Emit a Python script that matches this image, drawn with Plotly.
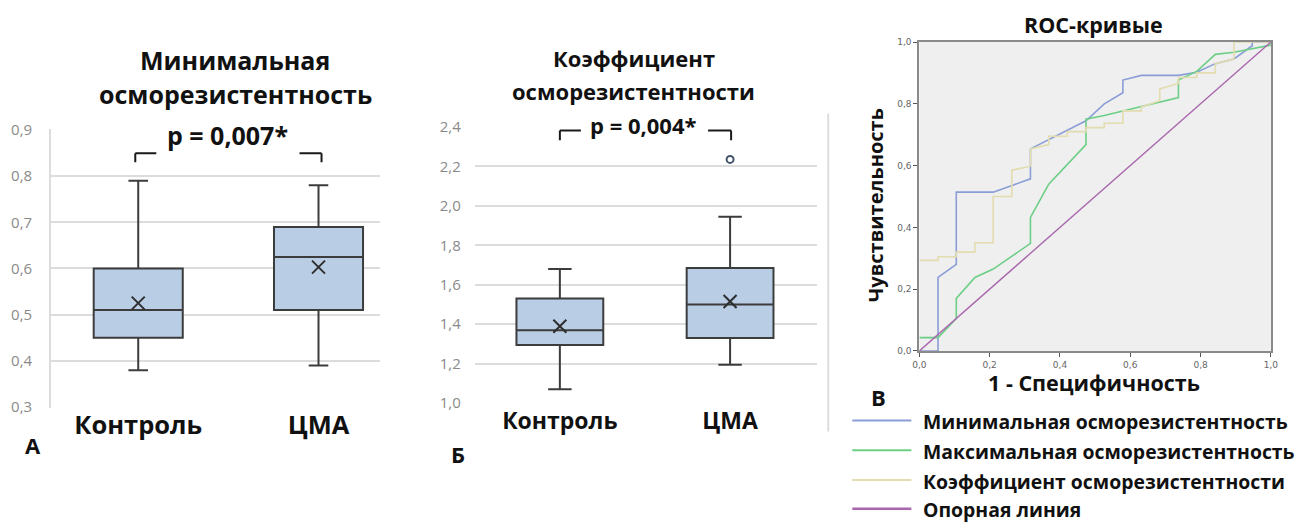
import plotly.graph_objects as go

W, H = 1302, 531
# the page is photographed with its 8px body margin and scaled back to W x H;
# layout positions below are given in final picture pixels and converted here
PAD = 8
SX = (W + 2 * PAD) / W
SY = (H + 2 * PAD) / H

# ---- Panel A: minimal osmotic resistance (box summary per group) ----
groups = ["Контроль", "ЦМА"]
a_lower = [0.38, 0.39]
a_q1 = [0.45, 0.51]
a_median = [0.51, 0.625]
a_q3 = [0.60, 0.69]
a_upper = [0.79, 0.78]
a_mean = [0.525, 0.603]
a_ticks = [0.3, 0.4, 0.5, 0.6, 0.7, 0.8, 0.9]

# ---- Panel B: osmotic resistance coefficient ----
b_lower = [1.07, 1.195]
b_q1 = [1.295, 1.33]
b_median = [1.37, 1.50]
b_q3 = [1.53, 1.685]
b_upper = [1.68, 1.945]
b_mean = [1.39, 1.515]
b_outlier_group = [1]
b_outlier_value = [2.235]
b_ticks = [1.0, 1.2, 1.4, 1.6, 1.8, 2.0, 2.2, 2.4]

# ---- Panel C: ROC curves (1 - specificity, sensitivity) ----
roc_min_x = [0, 0.053, 0.053, 0.105, 0.105, 0.21, 0.316, 0.316, 0.474, 0.526, 0.579, 0.579,
             0.632, 0.737, 0.789, 0.842, 0.895, 0.947, 0.947, 1.0]
roc_min_y = [0, 0, 0.238, 0.28, 0.514, 0.514, 0.557, 0.654, 0.745, 0.8, 0.836, 0.877,
             0.892, 0.892, 0.902, 0.93, 0.945, 0.988, 1.0, 1.0]
roc_max_x = [0, 0.053, 0.105, 0.105, 0.158, 0.21, 0.316, 0.316, 0.368, 0.474, 0.474, 0.526,
             0.579, 0.737, 0.737, 0.789, 0.842, 0.895, 1.0, 1.0]
roc_max_y = [0.043, 0.043, 0.105, 0.17, 0.238, 0.265, 0.348, 0.432, 0.54, 0.668, 0.75, 0.762,
             0.777, 0.82, 0.877, 0.905, 0.96, 0.967, 0.99, 1.0]
roc_coef_x = [0, 0.053, 0.053, 0.105, 0.105, 0.158, 0.158, 0.21, 0.21, 0.263, 0.263, 0.316,
              0.316, 0.368, 0.368, 0.421, 0.421, 0.474, 0.474, 0.526, 0.526, 0.579, 0.579,
              0.632, 0.632, 0.684, 0.684, 0.737, 0.737, 0.789, 0.789, 0.842, 0.842, 0.895,
              0.895, 1.0]
roc_coef_y = [0.293, 0.293, 0.305, 0.305, 0.32, 0.32, 0.35, 0.35, 0.50, 0.50, 0.585, 0.598,
              0.654, 0.668, 0.695, 0.695, 0.71, 0.71, 0.723, 0.723, 0.737, 0.737, 0.777,
              0.777, 0.79, 0.81, 0.848, 0.866, 0.885, 0.885, 0.9, 0.9, 0.93, 0.945,
              1.0, 1.0]
roc_ref_x = [0, 1]
roc_ref_y = [0, 1]
roc_ticks = [0, 0.2, 0.4, 0.6, 0.8, 1.0]

roc_names = ["Минимальная осморезистентность", "Максимальная осморезистентность",
             "Коэффициент осморезистентности", "Опорная линия"]
roc_colors = ["#8a9dd6", "#6dcf86", "#e2dcae", "#a866ad"]

FONT = "Open Sans"
BOX_FILL = "#b9cde4"
BOX_LINE = "#3c3c3c"


def px(x):
    """Picture x pixel -> paper fraction."""
    return (x * SX - PAD) / W


def py(y):
    """Picture y pixel (from top) -> paper fraction."""
    return 1 - (y * SY - PAD) / H


fig = go.Figure()

# boxes
for ax, lo, q1, med, q3, up, width, ww in [
    ("", a_lower, a_q1, a_median, a_q3, a_upper, 0.494, 0.22),
    ("2", b_lower, b_q1, b_median, b_q3, b_upper, 0.51, 0.27),
]:
    for i in range(len(groups)):
        fig.add_trace(go.Box(
            x=[i], q1=[q1[i]], median=[med[i]], q3=[q3[i]],
            lowerfence=[lo[i]], upperfence=[up[i]],
            width=width, whiskerwidth=ww,
            fillcolor=BOX_FILL, line=dict(color=BOX_LINE, width=2),
            xaxis="x" + ax, yaxis="y" + ax, showlegend=False, hoverinfo="skip",
        ))

# mean markers
for ax, means in [("", a_mean), ("2", b_mean)]:
    fig.add_trace(go.Scatter(
        x=[0, 1], y=means, mode="markers", xaxis="x" + ax, yaxis="y" + ax,
        showlegend=False,
        marker=dict(symbol="x-thin", size=13, color="#2e2e2e",
                    line=dict(color="#2e2e2e", width=2)),
    ))
# outlier
fig.add_trace(go.Scatter(
    x=b_outlier_group, y=b_outlier_value, mode="markers", xaxis="x2", yaxis="y2",
    showlegend=False,
    marker=dict(symbol="circle-open", size=7, color="#44546a",
                line=dict(color="#44546a", width=2)),
))

# ROC curves
for xs, ys, name, col, lw in [
    (roc_min_x, roc_min_y, roc_names[0], roc_colors[0], 1.6),
    (roc_max_x, roc_max_y, roc_names[1], roc_colors[1], 1.6),
    (roc_coef_x, roc_coef_y, roc_names[2], roc_colors[2], 1.6),
    (roc_ref_x, roc_ref_y, roc_names[3], roc_colors[3], 1.4),
]:
    fig.add_trace(go.Scatter(
        x=xs, y=ys, mode="lines", name=name, xaxis="x3", yaxis="y3",
        line=dict(color=col, width=lw), showlegend=False,
    ))

tick_gray = dict(family=FONT, size=15, color="#8a8a8a")
cat_text = [f"<b>{g}</b>" for g in groups]
roc_tick_font = dict(family="DejaVu Sans", size=9, color="#666666")

fig.update_layout(
    width=W, height=H,
    margin=dict(l=0, r=0, t=0, b=0),
    paper_bgcolor="white", plot_bgcolor="white",
    separators=", ",
    font=dict(family=FONT),
    xaxis=dict(domain=[px(52), px(380)], range=[-0.483, 1.339],
               anchor="free", position=py(402),
               tickvals=[0, 1], ticktext=cat_text,
               tickfont=dict(family=FONT, size=25.5, color="#111111"),
               ticks="outside", ticklen=1, tickcolor="rgba(0,0,0,0)",
               showgrid=False, zeroline=False, showline=False),
    yaxis=dict(domain=[py(408), py(128)], range=[0.299, 0.901],
               tickvals=a_ticks, tickformat=".1f", tickfont=tick_gray,
               ticks="outside", ticklen=14, tickcolor="rgba(0,0,0,0)",
               showgrid=True, gridcolor="#dcdcdc", gridwidth=2, zeroline=False,
               showline=True, linecolor="#dcdcdc", linewidth=2),
    xaxis2=dict(domain=[px(475), px(817)], range=[-0.5, 1.512],
                anchor="free", position=py(400),
                tickvals=[0, 1], ticktext=cat_text,
                tickfont=dict(family=FONT, size=23, color="#111111"),
                ticks="outside", ticklen=1, tickcolor="rgba(0,0,0,0)",
                showgrid=False, zeroline=False, showline=False),
    yaxis2=dict(domain=[py(404), py(125)], range=[0.998, 2.402],
                tickvals=b_ticks, tickformat=".1f", tickfont=tick_gray,
                ticks="outside", ticklen=10, tickcolor="rgba(0,0,0,0)",
                showgrid=True, gridcolor="#dcdcdc", gridwidth=2, zeroline=False,
                showline=False, anchor="x2"),
    xaxis3=dict(domain=[px(919), px(1270)], range=[0, 1],
                tickvals=roc_ticks, tickformat=".1f", tickfont=roc_tick_font,
                ticks="outside", ticklen=4, tickcolor="#555555",
                showgrid=False, zeroline=False, showline=True, mirror=True,
                linecolor="#8a8a8a", linewidth=2, anchor="y3"),
    yaxis3=dict(domain=[py(351), py(40)], range=[0, 1],
                tickvals=roc_ticks, tickformat=".1f", tickfont=roc_tick_font,
                ticks="outside", ticklen=4, tickcolor="#555555",
                showgrid=False, zeroline=False, showline=True, mirror=True,
                linecolor="#8a8a8a", linewidth=2, anchor="x3"),
)

ann = []


def text(x, y, s, size, bold=True, color="#111111", angle=0, xanchor="center"):
    ann.append(dict(
        x=px(x), y=py(y), xref="paper", yref="paper", text=f"<b>{s}</b>" if bold else s,
        showarrow=False, xanchor=xanchor, yanchor="middle", textangle=angle,
        font=dict(family=FONT, size=size, color=color),
    ))


text(236, 58, "Минимальная", 25)
text(236, 92, "осморезистентность", 25)
text(634, 56, "Коэффициент", 22)
text(634, 89, "осморезистентности", 22)
text(1093, 22, "ROC-кривые", 21.5)
text(228, 134, "p = 0,007*", 25)
text(644, 124, "p = 0,004*", 22)
text(34, 446, "А", 22)
text(458, 455, "Б", 22)
text(878, 397, "В", 22)
text(876, 204, "Чувствительность", 20, angle=-90)
text(1093, 383, "1 - Специфичность", 21.5)

legend_rows = [421, 451, 481, 510]
for name, yy in zip(roc_names, legend_rows):
    text(921, yy + 1, name, 19.4, xanchor="left")

shapes = [
    # ROC plot background
    dict(type="rect", xref="x3 domain", yref="y3 domain", x0=0, x1=1, y0=0, y1=1,
         fillcolor="#efefef", line=dict(width=0), layer="below"),
]
line_style = dict(color="#1a1a1a", width=2)
# significance brackets: horizontal arm + vertical drop
for x0, x1, xv, ytop, ybot in [(136, 157, 136, 152, 161), (300, 322, 322, 152, 161),
                               (560, 581, 560, 129, 139), (708, 731, 731, 129, 139)]:
    shapes.append(dict(type="path", xref="paper", yref="paper",
                       path=f"M {px(x0)},{py(ytop)} L {px(x1)},{py(ytop)} "
                            f"M {px(xv)},{py(ytop)} L {px(xv)},{py(ybot)}",
                       line=line_style))
# thin frame line on the right of panel B
shapes.append(dict(type="line", xref="paper", yref="paper", x0=px(828), x1=px(828),
                   y0=py(112), y1=py(432), line=dict(color="#dddddd", width=2)))
# legend line samples
for col, yy in zip(roc_colors, legend_rows):
    shapes.append(dict(type="line", xref="paper", yref="paper", x0=px(852), x1=px(911),
                       y0=py(yy), y1=py(yy),
                       line=dict(color=col, width=2.5 if col == roc_colors[3] else 2)))

fig.update_layout(annotations=ann, shapes=shapes)

fig.write_html("out.html")
